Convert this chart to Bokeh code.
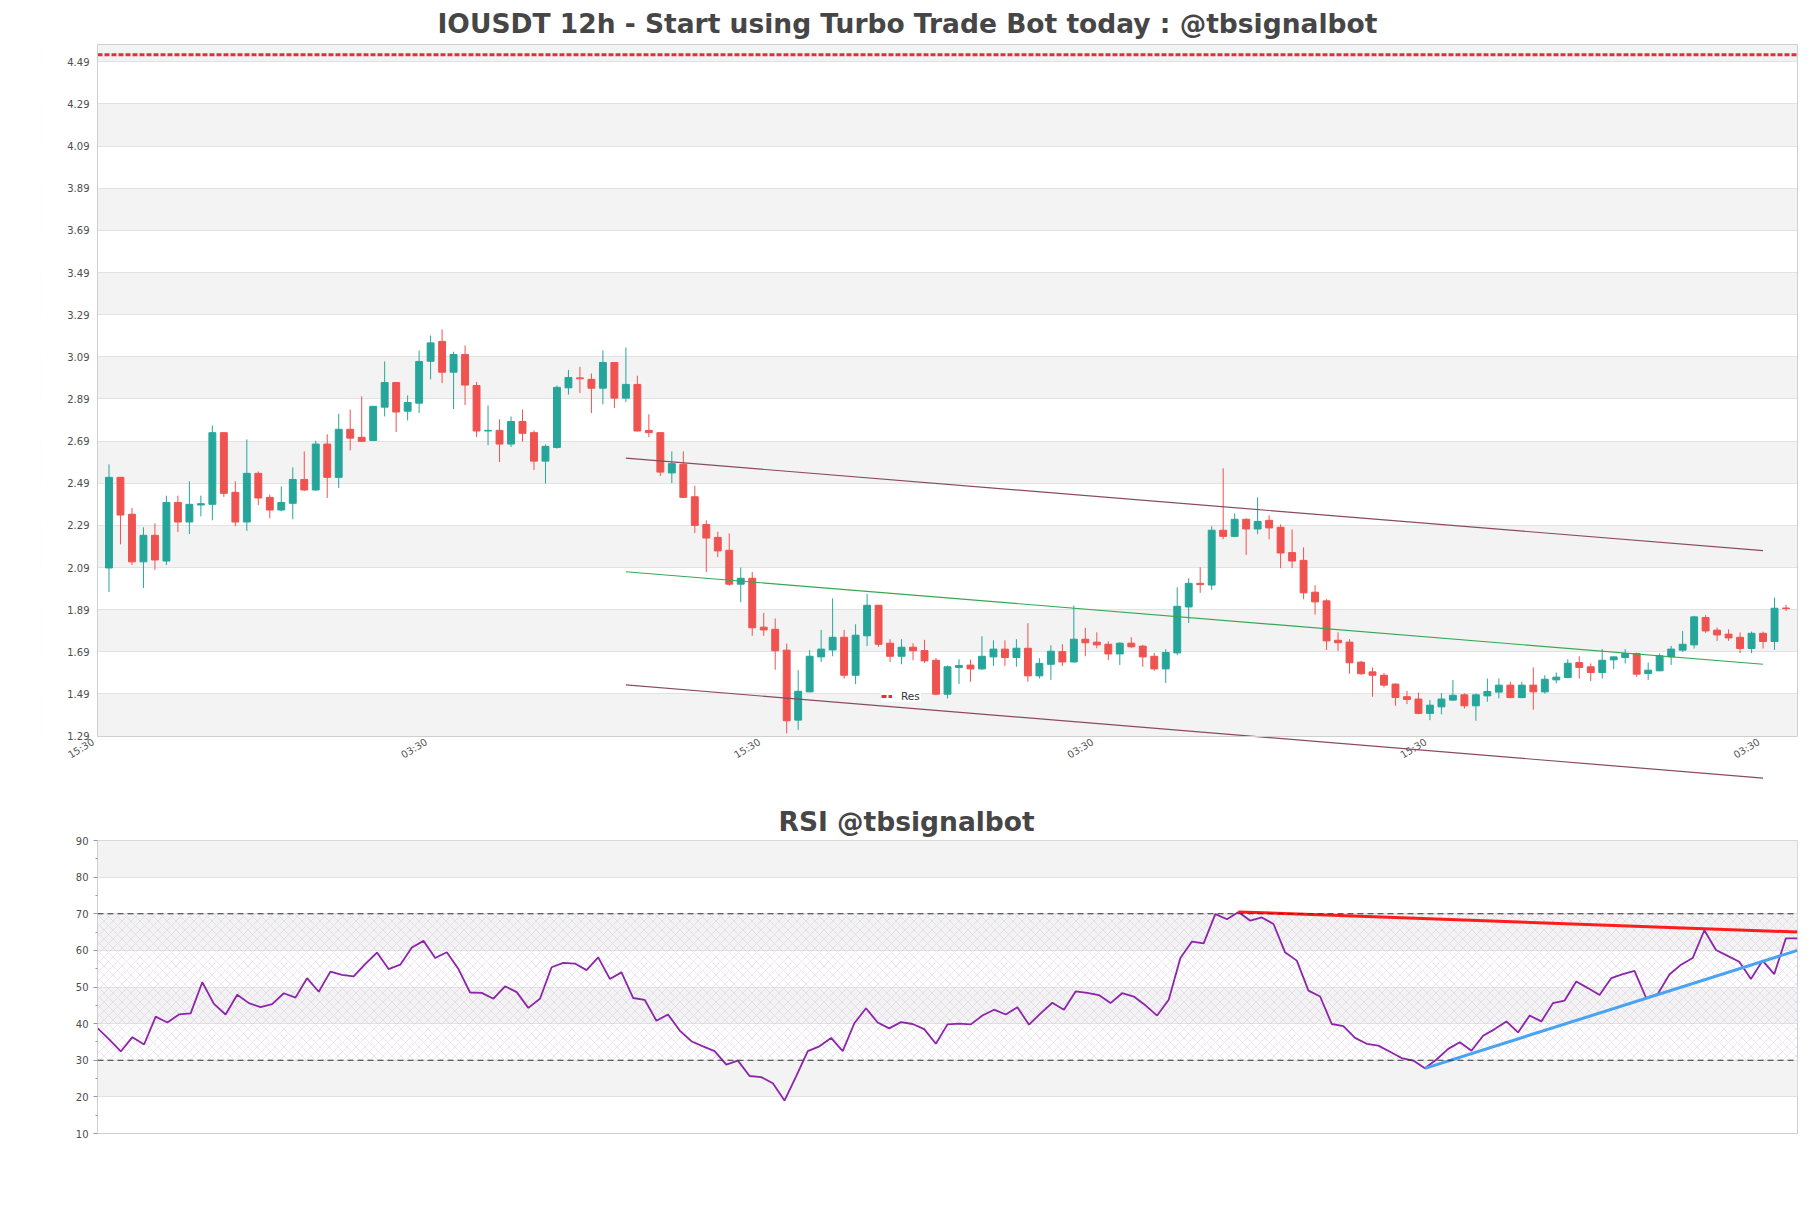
from bokeh.plotting import figure
from bokeh.models import (Range1d, FixedTicker, LinearAxis, Grid, Span, BoxAnnotation,
                          Legend, LegendItem, Title, ColumnDataSource, NumeralTickFormatter, Label)
from bokeh.embed import file_html
from bokeh.resources import INLINE

# ---------------- data ----------------
opens = [2.088, 2.518, 2.343, 2.117, 2.243, 2.121, 2.399, 2.306, 2.387, 2.390,
         2.730, 2.447, 2.306, 2.537, 2.423, 2.363, 2.395, 2.508, 2.458, 2.676,
         2.518, 2.746, 2.708, 2.693, 2.851, 2.968, 2.832, 2.870, 3.069, 3.163,
         3.017, 3.101, 2.954, 2.738, 2.741, 2.676, 2.783, 2.730, 2.595, 2.660,
         2.943, 2.990, 2.983, 2.941, 3.063, 2.894, 2.959, 2.741, 2.730, 2.539,
         2.580, 2.426, 2.294, 2.233, 2.172, 2.011, 2.039, 1.807, 1.797, 1.698,
         1.366, 1.500, 1.666, 1.699, 1.759, 1.579, 1.766, 1.911, 1.731, 1.669,
         1.712, 1.696, 1.650, 1.489, 1.616, 1.627, 1.609, 1.666, 1.703, 1.663,
         1.707, 1.576, 1.631, 1.691, 1.642, 1.750, 1.736, 1.726, 1.680, 1.731,
         1.717, 1.669, 1.609, 1.685, 1.903, 2.015, 2.007, 2.267, 2.238, 2.319,
         2.273, 2.314, 2.281, 2.161, 2.124, 1.973, 1.932, 1.745, 1.736, 1.641,
         1.595, 1.579, 1.537, 1.477, 1.466, 1.398, 1.429, 1.461, 1.486, 1.434,
         1.481, 1.499, 1.532, 1.473, 1.532, 1.500, 1.557, 1.568, 1.639, 1.619,
         1.592, 1.652, 1.663, 1.682, 1.587, 1.600, 1.666, 1.698, 1.723, 1.853,
         1.793, 1.774, 1.759, 1.706, 1.778, 1.739, 1.898]
highs = [2.580, 2.520, 2.373, 2.281, 2.300, 2.431, 2.431, 2.499, 2.431, 2.764,
         2.732, 2.499, 2.698, 2.546, 2.436, 2.475, 2.565, 2.641, 2.692, 2.722,
         2.820, 2.840, 2.902, 2.857, 3.068, 2.971, 2.907, 3.120, 3.191, 3.220,
         3.114, 3.144, 2.971, 2.859, 2.793, 2.807, 2.840, 2.741, 2.674, 2.954,
         3.028, 3.043, 3.011, 3.120, 3.065, 3.134, 3.000, 2.817, 2.732, 2.641,
         2.641, 2.478, 2.314, 2.260, 2.252, 2.090, 2.069, 1.875, 1.848, 1.729,
         1.603, 1.698, 1.794, 1.944, 1.794, 1.821, 1.965, 1.913, 1.750, 1.750,
         1.731, 1.747, 1.661, 1.625, 1.655, 1.653, 1.764, 1.745, 1.745, 1.750,
         1.826, 1.660, 1.721, 1.726, 1.910, 1.804, 1.783, 1.740, 1.736, 1.759,
         1.723, 1.685, 1.703, 1.996, 2.039, 2.091, 2.286, 2.561, 2.347, 2.324,
         2.423, 2.338, 2.295, 2.271, 2.186, 2.006, 1.940, 1.783, 1.750, 1.647,
         1.616, 1.589, 1.540, 1.505, 1.497, 1.461, 1.494, 1.556, 1.494, 1.492,
         1.563, 1.563, 1.548, 1.548, 1.616, 1.579, 1.592, 1.655, 1.669, 1.635,
         1.703, 1.669, 1.703, 1.687, 1.639, 1.682, 1.718, 1.789, 1.861, 1.864,
         1.805, 1.797, 1.782, 1.786, 1.786, 1.947, 1.913]
lows = [1.974, 2.200, 2.102, 1.993, 2.079, 2.102, 2.259, 2.249, 2.333, 2.314,
        2.425, 2.286, 2.264, 2.387, 2.324, 2.358, 2.319, 2.453, 2.456, 2.420,
        2.467, 2.646, 2.687, 2.690, 2.807, 2.733, 2.788, 2.823, 2.983, 2.965,
        2.842, 2.861, 2.709, 2.671, 2.591, 2.662, 2.687, 2.553, 2.489, 2.654,
        2.911, 2.918, 2.823, 2.864, 2.847, 2.875, 2.736, 2.709, 2.524, 2.491,
        2.420, 2.254, 2.069, 2.140, 2.003, 1.925, 1.766, 1.766, 1.605, 1.303,
        1.320, 1.498, 1.642, 1.669, 1.563, 1.537, 1.717, 1.714, 1.642, 1.631,
        1.650, 1.638, 1.484, 1.469, 1.537, 1.548, 1.605, 1.623, 1.623, 1.619,
        1.548, 1.563, 1.557, 1.623, 1.638, 1.669, 1.707, 1.650, 1.628, 1.709,
        1.619, 1.600, 1.542, 1.674, 1.827, 1.970, 1.984, 2.224, 2.236, 2.150,
        2.248, 2.224, 2.087, 2.087, 1.940, 1.867, 1.699, 1.695, 1.586, 1.581,
        1.477, 1.521, 1.434, 1.442, 1.394, 1.366, 1.394, 1.458, 1.421, 1.363,
        1.453, 1.469, 1.470, 1.470, 1.415, 1.492, 1.540, 1.565, 1.563, 1.552,
        1.563, 1.608, 1.635, 1.571, 1.557, 1.598, 1.628, 1.690, 1.706, 1.780,
        1.742, 1.742, 1.684, 1.684, 1.706, 1.699, 1.884]
closes = [2.518, 2.339, 2.117, 2.243, 2.126, 2.399, 2.306, 2.390, 2.393, 2.730,
          2.442, 2.306, 2.537, 2.420, 2.363, 2.399, 2.508, 2.458, 2.676, 2.518,
          2.746, 2.704, 2.689, 2.855, 2.968, 2.828, 2.873, 3.068, 3.156, 3.017,
          3.101, 2.956, 2.738, 2.741, 2.676, 2.783, 2.727, 2.595, 2.665, 2.945,
          2.992, 2.986, 2.941, 3.063, 2.894, 2.959, 2.738, 2.730, 2.543, 2.583,
          2.423, 2.290, 2.230, 2.169, 2.011, 2.039, 1.804, 1.794, 1.695, 1.363,
          1.503, 1.669, 1.703, 1.759, 1.579, 1.769, 1.911, 1.726, 1.669, 1.712,
          1.695, 1.647, 1.489, 1.619, 1.625, 1.609, 1.669, 1.703, 1.663, 1.707,
          1.576, 1.635, 1.693, 1.642, 1.750, 1.733, 1.723, 1.680, 1.731, 1.714,
          1.666, 1.609, 1.687, 1.906, 2.015, 2.009, 2.267, 2.238, 2.319, 2.273,
          2.309, 2.278, 2.159, 2.121, 1.970, 1.927, 1.742, 1.733, 1.638, 1.586,
          1.579, 1.532, 1.473, 1.464, 1.398, 1.437, 1.466, 1.484, 1.434, 1.486,
          1.502, 1.532, 1.473, 1.532, 1.500, 1.560, 1.570, 1.636, 1.616, 1.592,
          1.650, 1.666, 1.682, 1.584, 1.603, 1.671, 1.703, 1.726, 1.856, 1.789,
          1.770, 1.756, 1.706, 1.778, 1.739, 1.897, 1.895]
rsi = [38.8, 35.7, 32.4, 36.3, 34.3, 41.9, 40.3, 42.5, 42.8, 51.3,
       45.4, 42.5, 47.9, 45.6, 44.5, 45.3, 48.3, 47.1, 52.4, 48.7,
       54.2, 53.3, 52.9, 56.3, 59.4, 54.9, 56.1, 60.8, 62.6, 57.9,
       59.5, 54.9, 48.5, 48.4, 46.8, 50.2, 48.6, 44.3, 46.8, 55.4,
       56.6, 56.4, 54.6, 58.1, 52.2, 54.0, 47.0, 46.5, 40.8, 42.5,
       38.1, 35.2, 33.8, 32.5, 28.8, 29.9, 25.7, 25.4, 23.7, 19.0,
       25.6, 32.5, 33.8, 36.1, 32.5, 40.1, 44.2, 40.3, 38.7, 40.4,
       39.9, 38.5, 34.5, 39.8, 40.0, 39.8, 42.2, 43.8, 42.5, 44.5,
       39.7, 42.8, 45.7, 43.8, 48.8, 48.4, 47.8, 45.6, 48.3, 47.4,
       45.0, 42.2, 46.5, 57.9, 62.4, 61.9, 69.9, 68.5, 70.5, 68.1,
       69.0, 67.2, 59.4, 57.2, 49.0, 47.4, 39.9, 39.3, 36.1, 34.5,
       34.0, 32.3, 30.6, 29.9, 27.8, 30.2, 33.1, 34.9, 32.6, 36.7,
       38.5, 40.6, 37.6, 42.2, 40.6, 45.6, 46.3, 51.5, 49.7, 47.8,
       52.4, 53.5, 54.4, 47.0, 48.1, 53.4, 56.1, 57.9, 65.5, 60.1,
       58.5, 56.9, 52.2, 57.2, 53.5, 63.3, 63.3]

x_tick_pos = [-1, 28, 57, 86, 115, 144]
x_tick_labels = ["15:30", "03:30", "15:30", "03:30", "15:30", "03:30"]
price_ticks = [1.29, 1.49, 1.69, 1.89, 2.09, 2.29, 2.49, 2.69, 2.89, 3.09,
               3.29, 3.49, 3.69, 3.89, 4.09, 4.29, 4.49]
res_level = 4.523
chan_x = [45, 144]
chan_upper = [2.609, 2.170]
chan_mid = [2.070, 1.631]
chan_lower = [1.533, 1.091]
rsi_ticks = [10, 20, 30, 40, 50, 60, 70, 80, 90]
rsi_minor = [15, 25, 35, 45, 55, 65, 75, 85]
rsi_over, rsi_under = 70, 30
rsi_res_x = [98, 146]
rsi_res_y = [70.5, 65.0]
rsi_sup_x = [114, 146]
rsi_sup_y = [27.8, 60.0]

main_title = "IOUSDT 12h - Start using Turbo Trade Bot today : @tbsignalbot"
rsi_title = "RSI @tbsignalbot"

# ---------------- styling / geometry ----------------
FONT = "DejaVu Sans"
UP, DOWN = "#26a69a", "#ef5350"
GRID_C, BAND_C, AXIS_C = "#e2e2e2", "#f3f3f3", "#cfcfcf"
LABEL_C = "#4d4d4d"

n = len(opens)
idx = list(range(n))
x_start, x_end = -1, n            # visible price area
y_bottom, y_top = 1.07, 4.572
PLOT_W = 1700                     # width of the bordered price area in px
PAD_L = 57                        # extra drawing room left of it for the axis labels
x_per_px = (x_end - x_start) / PLOT_W
frame_x0 = x_start - PAD_L * x_per_px

# ---------------- main price chart ----------------
p1 = figure(frame_width=PLOT_W + PAD_L, frame_height=738,
            x_range=Range1d(frame_x0, x_end), y_range=Range1d(y_bottom, y_top),
            x_axis_type=None, y_axis_type=None,
            output_backend="svg", toolbar_location=None,
            min_border_left=97 - PAD_L, min_border_right=6, min_border_top=44, min_border_bottom=8,
            outline_line_color=None, background_fill_color="white", border_fill_color="white")
p1.title = Title(text=main_title, align="left", offset=340 + PAD_L, standoff=11,
                 text_font=FONT, text_font_size="26.5px", text_font_style="bold",
                 text_color="#464646")

p1.add_layout(Grid(dimension=1, ticker=FixedTicker(ticks=price_ticks),
                   grid_line_color=GRID_C, band_fill_color=BAND_C, band_fill_alpha=1))
# keep the label gutter left of the price area blank
p1.add_layout(BoxAnnotation(right=x_start, fill_color="white", fill_alpha=1,
                            line_color=None, level="underlay"))

yax = LinearAxis(ticker=FixedTicker(ticks=price_ticks),
                 formatter=NumeralTickFormatter(format="0.00"),
                 fixed_location=x_start, bounds=(price_ticks[0], y_top),
                 axis_line_color=AXIS_C, major_tick_line_color=None, minor_tick_line_color=None,
                 major_tick_out=0, major_tick_in=0,
                 major_label_standoff=8, major_label_text_font=FONT,
                 major_label_text_font_size="10px", major_label_text_color=LABEL_C)
p1.add_layout(yax, "left")

xax = LinearAxis(ticker=FixedTicker(ticks=[]), fixed_location=price_ticks[0],
                 bounds=(x_start, x_end),
                 axis_line_color=AXIS_C, major_tick_line_color=None, minor_tick_line_color=None)
p1.add_layout(xax, "below")
for t, lab in zip(x_tick_pos, x_tick_labels):
    p1.add_layout(Label(x=t, y=price_ticks[0], text=lab, angle=0.55,
                        text_align="right", text_baseline="top", x_offset=-7, y_offset=0,
                        text_font=FONT, text_font_size="10px", text_color="#555555"))

rax = LinearAxis(ticker=FixedTicker(ticks=[]), bounds=(price_ticks[0], y_top),
                 axis_line_color=AXIS_C, major_tick_line_color=None, minor_tick_line_color=None)
p1.add_layout(rax, "right")
tax = LinearAxis(ticker=FixedTicker(ticks=[]), bounds=(x_start, x_end),
                 axis_line_color=AXIS_C, major_tick_line_color=None, minor_tick_line_color=None)
p1.add_layout(tax, "above")

colors = [UP if c >= o else DOWN for o, c in zip(opens, closes)]
src = ColumnDataSource(dict(x=idx, o=opens, h=highs, l=lows, c=closes,
                            top=[max(o, c) for o, c in zip(opens, closes)],
                            bottom=[min(o, c) for o, c in zip(opens, closes)],
                            color=colors))
p1.segment(x0="x", y0="h", x1="x", y1="l", line_color="color", line_width=1, source=src)
p1.vbar(x="x", width=0.6, top="top", bottom="bottom", fill_color="color",
        line_color="color", line_width=1, source=src)

p1.line(chan_x, chan_upper, line_color="#8a4a60", line_width=1.2)
p1.line(chan_x, chan_mid, line_color="#34a853", line_width=1.1)
p1.line(chan_x, chan_lower, line_color="#8a4a60", line_width=1.2)

res_r = p1.line([x_start, x_end], [res_level, res_level], line_color="#e0303a",
                line_width=3, line_dash="5 2")

legend = Legend(items=[LegendItem(label="Res", renderers=[res_r])], location=(784 + PAD_L, 80),
                label_text_font=FONT, label_text_font_size="10.5px", label_text_color="#333333",
                glyph_width=11, glyph_height=8, label_height=8, label_standoff=9,
                padding=4, margin=0, spacing=0, border_line_color=None,
                background_fill_color="white", background_fill_alpha=1)
p1.add_layout(legend)

# ---------------- RSI chart ----------------
p2 = figure(frame_width=PLOT_W, frame_height=293,
            x_range=Range1d(0, n - 1), y_range=Range1d(rsi_ticks[0], rsi_ticks[-1]),
            x_axis_type=None, y_axis_type=None,
            output_backend="svg", toolbar_location=None,
            min_border_left=97, min_border_right=6, min_border_top=50, min_border_bottom=10,
            outline_line_color=AXIS_C, background_fill_color="white", border_fill_color="white")
p2.title = Title(text=rsi_title, align="left", offset=681, standoff=7,
                 text_font=FONT, text_font_size="26.5px", text_font_style="bold",
                 text_color="#464646")

p2.add_layout(Grid(dimension=1, ticker=FixedTicker(ticks=rsi_ticks),
                   grid_line_color=GRID_C, band_fill_color=BAND_C, band_fill_alpha=1))
p2.add_layout(BoxAnnotation(bottom=rsi_under, top=rsi_over, fill_alpha=0, line_color=None,
                            hatch_pattern="diagonal_cross", hatch_color="#c4aed6",
                            hatch_alpha=0.55, hatch_scale=9, hatch_weight=0.6, level="underlay"))

ry = LinearAxis(ticker=FixedTicker(ticks=rsi_ticks, minor_ticks=rsi_minor),
                axis_line_color=AXIS_C, major_tick_line_color="#999999", major_tick_out=4,
                major_tick_in=0, minor_tick_line_color="#999999", minor_tick_out=2, minor_tick_in=0,
                major_label_standoff=5, major_label_text_font=FONT,
                major_label_text_font_size="10px", major_label_text_color=LABEL_C)
p2.add_layout(ry, "left")

for lvl in (rsi_over, rsi_under):
    p2.add_layout(Span(location=lvl, dimension="width", line_color="#333333",
                       line_width=1.2, line_dash="6 4"))

p2.line(idx, rsi, line_color="#8e24aa", line_width=1.8)
p2.line(rsi_res_x, rsi_res_y, line_color="#ff1c1c", line_width=3)
p2.line(rsi_sup_x, rsi_sup_y, line_color="#4aa3f0", line_width=3)

# two independent roots stacked on the page (no frame alignment between them)
open("out.html", "w").write(file_html([p1, p2], INLINE))
